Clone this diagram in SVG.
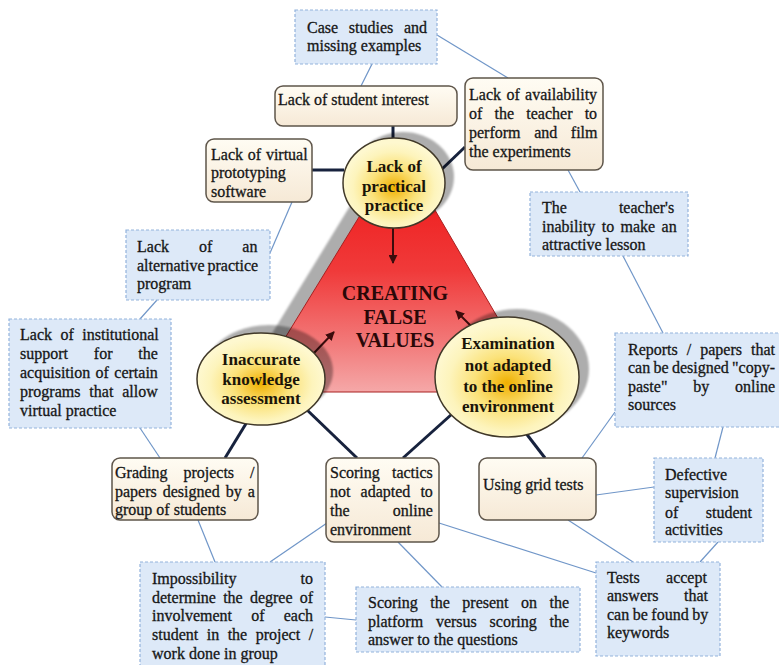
<svg xmlns="http://www.w3.org/2000/svg" width="779" height="665" viewBox="0 0 779 665">
<defs>
<linearGradient id="cream" x1="0" y1="0" x2="0" y2="1">
<stop offset="0" stop-color="#fffcf3"/>
<stop offset="1" stop-color="#f6e9d6"/>
</linearGradient>
<linearGradient id="red" x1="0" y1="0" x2="0" y2="1">
<stop offset="0" stop-color="#ee1010"/>
<stop offset="0.5" stop-color="#f03a3a"/>
<stop offset="0.8" stop-color="#f27a7a"/>
<stop offset="1" stop-color="#f5a8a8"/>
</linearGradient>
<radialGradient id="yel" cx="0.5" cy="0.55" r="0.5">
<stop offset="0" stop-color="#f0b000"/>
<stop offset="0.45" stop-color="#fbe27a"/>
<stop offset="0.8" stop-color="#fdf4bc"/>
<stop offset="1" stop-color="#fef8cf"/>
</radialGradient>
<filter id="soft" x="-10%" y="-10%" width="120%" height="120%">
<feGaussianBlur stdDeviation="0.8"/>
</filter>
<marker id="ah" viewBox="0 0 10 10" refX="9" refY="5" markerWidth="9" markerHeight="9" markerUnits="userSpaceOnUse" orient="auto">
<path d="M0,0 L10,5 L0,10 z" fill="#3b0c0c"/>
</marker>
<style>
.rb{fill:url(#cream);stroke:#5e554a;stroke-width:1.5}
.bb{fill:#dde9f8;stroke:#93b3dc;stroke-width:1.2;stroke-dasharray:3 2}
.t{font-family:"Liberation Serif","Times New Roman",serif;font-size:16px;fill:#161616;stroke:#161616;stroke-width:0.3}
.et{font-family:"Liberation Serif","Times New Roman",serif;font-size:17px;font-weight:bold;fill:#1a1408;text-anchor:middle}
.ct{font-family:"Liberation Serif","Times New Roman",serif;font-size:20px;font-weight:bold;fill:#2a0808;text-anchor:middle}
.thin{stroke:#7096c8;stroke-width:1.2;fill:none}
.thick{stroke:#17223d;stroke-width:3;fill:none}
.arr{stroke:#3b0c0c;stroke-width:2;fill:none;marker-end:url(#ah)}
.sh{fill:#000000;fill-opacity:0.32;filter:url(#soft)}
.el{fill:url(#yel);stroke:#403828;stroke-width:1.5}
</style>
</defs>
<rect width="779" height="665" fill="#ffffff"/>

<g id="connectors">
<line class="thin" x1="372" y1="64" x2="361" y2="86"/>
<line class="thin" x1="437" y1="35" x2="508" y2="78"/>
<line class="thin" x1="568" y1="170" x2="580" y2="192"/>
<line class="thin" x1="292" y1="202" x2="270" y2="253"/>
<line class="thin" x1="157" y1="300" x2="140" y2="319"/>
<line class="thin" x1="140" y1="428" x2="160" y2="458"/>
<line class="thin" x1="198" y1="520" x2="215" y2="562"/>
<line class="thin" x1="327" y1="523" x2="270" y2="562"/>
<line class="thin" x1="325" y1="617" x2="356" y2="620"/>
<line class="thin" x1="398" y1="542" x2="442" y2="587"/>
<line class="thin" x1="439" y1="523" x2="596" y2="573"/>
<line class="thin" x1="568" y1="520" x2="633" y2="562"/>
<line class="thin" x1="596" y1="495" x2="654" y2="487"/>
<line class="thin" x1="718" y1="542" x2="700" y2="562"/>
<line class="thin" x1="723" y1="427" x2="715" y2="458"/>
<line class="thin" x1="615" y1="412" x2="582" y2="458"/>
<line class="thin" x1="623" y1="256" x2="663" y2="333"/>
<line class="thick" x1="393" y1="126" x2="393" y2="140"/>
<line class="thick" x1="312" y1="170" x2="344" y2="170"/>
<line class="thick" x1="441" y1="170" x2="465" y2="147"/>
<line class="thick" x1="247" y1="422" x2="225" y2="458"/>
<line class="thick" x1="305" y1="408" x2="357" y2="458"/>
<line class="thick" x1="452" y1="414" x2="403" y2="458"/>
<line class="thick" x1="525" y1="432" x2="545" y2="458"/>
</g>

<g id="triangle">
<polygon class="sh" points="386,147 238,389 527,389"/>
<polygon points="400,150 252,392 541,392" fill="url(#red)" stroke="#a82020" stroke-width="1"/>
<text class="ct" x="395" y="300">CREATING</text>
<text class="ct" x="395" y="324">FALSE</text>
<text class="ct" x="395" y="347">VALUES</text>
<line class="arr" x1="393" y1="226" x2="393" y2="263"/>
<line class="arr" x1="314" y1="353" x2="334" y2="332"/>
<line class="arr" x1="471" y1="326" x2="456" y2="311"/>
</g>

<g id="practical">
<ellipse class="sh" cx="403" cy="177" rx="51" ry="45"/>
<ellipse class="el" cx="394" cy="183" rx="51" ry="45"/>
<text class="et" x="394" y="172">Lack of</text>
<text class="et" x="394" y="192">practical</text>
<text class="et" x="394" y="211">practice</text>
</g>

<g id="inaccurate">
<ellipse class="sh" cx="269" cy="371" rx="64" ry="46"/>
<ellipse class="el" cx="261" cy="379" rx="64" ry="46"/>
<text class="et" x="261" y="365">Inaccurate</text>
<text class="et" x="261" y="385">knowledge</text>
<text class="et" x="261" y="404">assessment</text>
</g>

<g id="examination">
<ellipse class="sh" cx="517" cy="369" rx="72" ry="60"/>
<ellipse class="el" cx="507" cy="377" rx="72" ry="60"/>
<text class="et" x="508" y="349">Examination</text>
<text class="et" x="508" y="371">not adapted</text>
<text class="et" x="508" y="392">to the online</text>
<text class="et" x="508" y="412">environment</text>
</g>

<g id="case-studies">
<rect class="bb" x="295" y="10" width="142" height="54"/>
<text class="t" x="307" y="33" word-spacing="6.7">Case studies and</text>
<text class="t" x="307" y="51">missing examples</text>
</g>

<g id="student-interest">
<rect class="rb" x="275" y="86" width="182" height="40" rx="8"/>
<text class="t" x="278" y="105">Lack of student interest</text>
</g>

<g id="teacher-availability">
<rect class="rb" x="465" y="78" width="138" height="92" rx="8"/>
<text class="t" x="469" y="100" word-spacing="1.4">Lack of availability</text>
<text class="t" x="469" y="119" word-spacing="8.2">of the teacher to</text>
<text class="t" x="469" y="138" word-spacing="9.6">perform and film</text>
<text class="t" x="469" y="157">the experiments</text>
</g>

<g id="virtual-software">
<rect class="rb" x="206" y="139" width="106" height="63" rx="8"/>
<text class="t" x="211" y="160" word-spacing="0.8">Lack of virtual</text>
<text class="t" x="211" y="178">prototyping</text>
<text class="t" x="211" y="197">software</text>
</g>

<g id="teacher-inability">
<rect class="bb" x="530" y="192" width="158" height="64"/>
<text class="t" x="542" y="213" word-spacing="48">The teacher's</text>
<text class="t" x="542" y="232" word-spacing="2.4">inability to make an</text>
<text class="t" x="542" y="250">attractive lesson</text>
</g>

<g id="alternative-program">
<rect class="bb" x="126" y="230" width="144" height="70"/>
<text class="t" x="137" y="252" word-spacing="26">Lack of an</text>
<text class="t" x="137" y="271" word-spacing="-1">alternative practice</text>
<text class="t" x="137" y="289">program</text>
</g>

<g id="institutional-support">
<rect class="bb" x="9" y="319" width="162" height="109"/>
<text class="t" x="20" y="340" word-spacing="4.5">Lack of institutional</text>
<text class="t" x="20" y="359" word-spacing="21.8">support for the</text>
<text class="t" x="20" y="378" word-spacing="1.4">acquisition of certain</text>
<text class="t" x="20" y="397" word-spacing="4.9">programs that allow</text>
<text class="t" x="20" y="416">virtual practice</text>
</g>

<g id="grading-projects">
<rect class="rb" x="112" y="458" width="146" height="62" rx="8"/>
<text class="t" x="115" y="478" word-spacing="12">Grading projects /</text>
<text class="t" x="115" y="497" word-spacing="2">papers designed by a</text>
<text class="t" x="115" y="515">group of students</text>
</g>

<g id="scoring-tactics">
<rect class="rb" x="326" y="458" width="113" height="84" rx="8"/>
<text class="t" x="330" y="478" word-spacing="8.2">Scoring tactics</text>
<text class="t" x="330" y="497" word-spacing="6.1">not adapted to</text>
<text class="t" x="330" y="516" word-spacing="39.3">the online</text>
<text class="t" x="330" y="535">environment</text>
</g>

<g id="grid-tests">
<rect class="rb" x="479" y="458" width="117" height="62" rx="8"/>
<text class="t" x="483" y="490">Using grid tests</text>
</g>

<g id="reports-papers">
<rect class="bb" x="615" y="333" width="170" height="94"/>
<text class="t" x="628" y="355" word-spacing="5">Reports / papers that</text>
<text class="t" x="628" y="373" word-spacing="-0.7">can be designed "copy-</text>
<text class="t" x="628" y="392" word-spacing="21.8">paste" by online</text>
<text class="t" x="628" y="410">sources</text>
</g>

<g id="defective-supervision">
<rect class="bb" x="654" y="458" width="109" height="84"/>
<text class="t" x="665" y="480">Defective</text>
<text class="t" x="665" y="498">supervision</text>
<text class="t" x="665" y="518" word-spacing="23.4">of student</text>
<text class="t" x="665" y="535">activities</text>
</g>

<g id="tests-accept">
<rect class="bb" x="596" y="562" width="124" height="94"/>
<text class="t" x="607" y="583" word-spacing="22.4">Tests accept</text>
<text class="t" x="607" y="601" word-spacing="21.5">answers that</text>
<text class="t" x="607" y="620" word-spacing="-0.5">can be found by</text>
<text class="t" x="607" y="638">keywords</text>
</g>

<g id="scoring-present">
<rect class="bb" x="356" y="587" width="224" height="65"/>
<text class="t" x="368" y="608" word-spacing="8.5">Scoring the present on the</text>
<text class="t" x="368" y="627" word-spacing="8.8">platform versus scoring the</text>
<text class="t" x="368" y="645">answer to the questions</text>
</g>

<g id="impossibility">
<rect class="bb" x="140" y="562" width="185" height="110"/>
<text class="t" x="152" y="584" word-spacing="60">Impossibility to</text>
<text class="t" x="152" y="603" word-spacing="3.2">determine the degree of</text>
<text class="t" x="152" y="621" word-spacing="15.2">involvement of each</text>
<text class="t" x="152" y="640" word-spacing="4.5">student in the project /</text>
<text class="t" x="152" y="659">work done in group</text>
</g>
</svg>
